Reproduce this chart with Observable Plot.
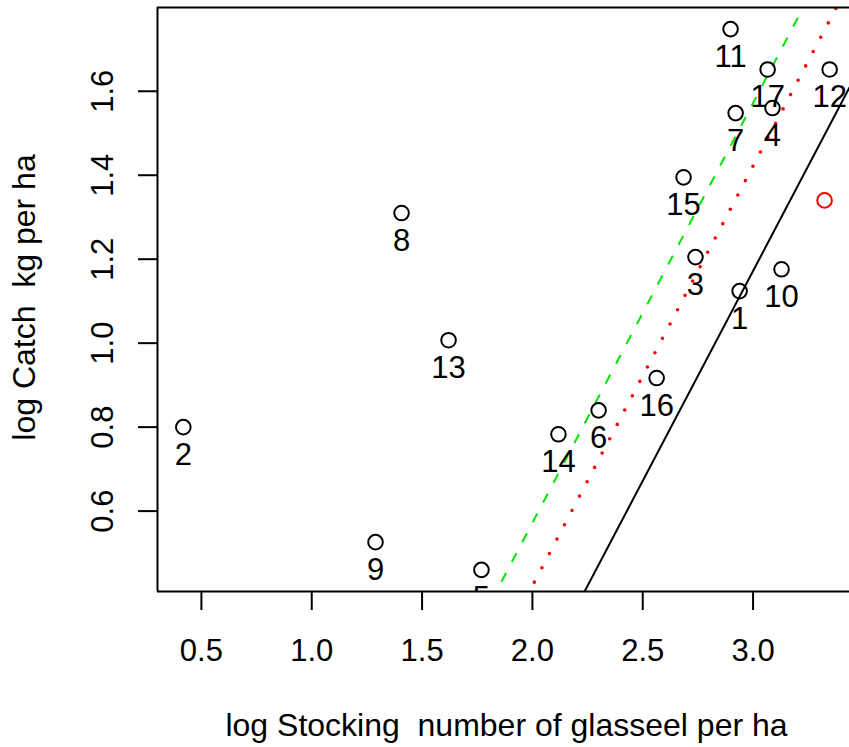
<!DOCTYPE html>
<html><head><meta charset="utf-8">
<script src="https://cdn.jsdelivr.net/npm/d3@7"></script>
<script src="https://cdn.jsdelivr.net/npm/@observablehq/plot@0.6"></script>
<style>html,body{margin:0;padding:0;background:#fff} svg{display:block}</style>
</head><body><div id="chart"></div>
<script>
// Site labels (last point is the unlabelled red one)
const siteLabels = ["1","2","3","4","5","6","7","8","9","10","11","12","13","14","15","16","17",""];
const logStocking = [2.939,0.418,2.739,3.088,1.769,2.300,2.921,1.407,1.289,3.129,2.898,3.347,1.620,2.118,2.685,2.563,3.066,3.324];
const logCatch    = [1.124,0.800,1.205,1.560,0.460,0.840,1.548,1.310,0.526,1.176,1.748,1.652,1.007,0.783,1.395,0.917,1.652,1.340];
const pointGroup  = ["site","site","site","site","site","site","site","site","site","site","site","site","site","site","site","site","site","extra"];

const xTicks = [0.5,1.0,1.5,2.0,2.5,3.0];
const yTicks = [0.6,0.8,1.0,1.2,1.4,1.6];

// Reference lines y = intercept + slope * x
const lineNames      = ["solid","dotted","dashed"];
const lineIntercepts = [-1.828,-1.578,-1.428];
const lineSlopes     = [1,1,1];

const xDomain = [0.301, 3.437];
const yDomain = [0.4085, 1.7995];

const points = siteLabels.map((label,i) => ({label, x: logStocking[i], y: logCatch[i], group: pointGroup[i]}));
const lineData = name => {
  const i = lineNames.indexOf(name);
  return xDomain.map(x => ({x, y: lineIntercepts[i] + lineSlopes[i]*x}));
};
const fmt = d3.format(".1f");
const FONT = 31;
const TITLE_FONT = 32;

const chart = Plot.plot({
  width: 849, height: 747,
  marginLeft: 157, marginRight: 0, marginTop: 7, marginBottom: 156,
  x: {domain: xDomain},
  y: {domain: yDomain},
  style: {fontFamily: "'Liberation Sans', Arial, Helvetica, sans-serif", fontSize: FONT+"px", color: "black", background: "white", overflow: "visible"},
  marks: [
    Plot.line(lineData("solid"), {x:"x", y:"y", stroke:"black", strokeWidth:2, clip:true}),
    Plot.line(lineData("dotted"), {x:"x", y:"y", stroke:"#ff0000", strokeWidth:3.6, strokeDasharray:"0,16.2", strokeLinecap:"round", clip:true}),
    Plot.line(lineData("dashed"), {x:"x", y:"y", stroke:"#00e600", strokeWidth:2, strokeDasharray:"10,12.4", strokeLinecap:"butt", clip:true}),
    Plot.dot(points, {x:"x", y:"y", r:7.3, strokeWidth:2, stroke: d => d.group === "extra" ? "#ff0000" : "black", fill:"none"}),
    Plot.text(points.filter(d => d.label !== ""), {x:"x", y:"y", text:"label", dy:38, lineAnchor:"bottom", textAnchor:"middle", fontSize:FONT, fill:"black", clip:true}),
    Plot.ruleX([xDomain[0]], {stroke:"black", strokeWidth:2}),
    Plot.ruleY(yDomain, {stroke:"black", strokeWidth:2}),
    Plot.axisX(xTicks, {tickSize:19, tickPadding:28, strokeWidth:2, fontSize:FONT, tickFormat: fmt, label:null, stroke:"black", fill:"black"}),
    Plot.axisY(yTicks, {tickSize:19, strokeWidth:2, tickFormat: () => "", label:null, stroke:"black"}),
    Plot.text(yTicks, {y: d => d, text: d => fmt(d), frameAnchor:"left", dx:-45, rotate:-90, textAnchor:"middle", lineAnchor:"bottom", fontSize:FONT, fill:"black"}),
    Plot.text(["log Stocking  number of glasseel per ha"], {frameAnchor:"bottom", dy:144, dx:3, lineAnchor:"bottom", textAnchor:"middle", fontSize:TITLE_FONT, fill:"black"}),
    Plot.text(["log Catch  kg per ha"], {frameAnchor:"left", dx:-123, dy:-2, rotate:-90, lineAnchor:"bottom", textAnchor:"middle", fontSize:TITLE_FONT, fill:"black"})
  ]
});
document.getElementById("chart").appendChild(chart);
</script>
</body></html>
